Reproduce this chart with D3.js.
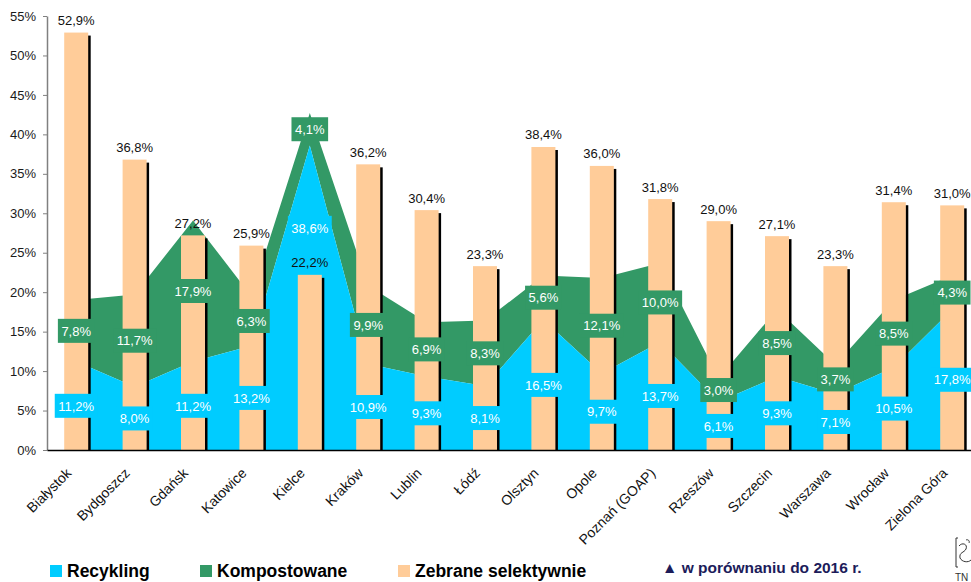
<!DOCTYPE html>
<html>
<head>
<meta charset="utf-8">
<script src="https://cdn.jsdelivr.net/npm/d3@7"></script>
<style>
  html, body { margin: 0; padding: 0; background: #fff; }
  svg { display: block; font-family: "Liberation Sans", Arial, sans-serif; }
</style>
</head>
<body>
<div id="chart"></div>
<script>
// ---- data ----
const categories = ["Białystok", "Bydgoszcz", "Gdańsk", "Katowice", "Kielce", "Kraków", "Lublin", "Łódź",
  "Olsztyn", "Opole", "Poznań (GOAP)", "Rzeszów", "Szczecin", "Warszawa", "Wrocław", "Zielona Góra"];
const recycling = [11.2, 8.0, 11.2, 13.2, 38.6, 10.9, 9.3, 8.1, 16.5, 9.7, 13.7, 6.1, 9.3, 7.1, 10.5, 17.8];
const composted = [7.8, 11.7, 17.9, 6.3, 4.1, 9.9, 6.9, 8.3, 5.6, 12.1, 10.0, 3.0, 8.5, 3.7, 8.5, 4.3];
const collected = [52.9, 36.8, 27.2, 25.9, 22.2, 36.2, 30.4, 23.3, 38.4, 36.0, 31.8, 29.0, 27.1, 23.3, 31.4, 31.0];
const yTicks = [0, 5, 10, 15, 20, 25, 30, 35, 40, 45, 50, 55];
const seriesNames = ["Recykling", "Kompostowane", "Zebrane selektywnie"];
const footnote = "▲ w porównaniu do 2016 r.";

// ---- styles ----
const C_BLUE = "#00CCFF", C_GREEN = "#339966", C_PEACH = "#FFCC99";
const W = 971, H = 582;
const fmt = v => v.toFixed(1).replace(".", ",") + "%";

const svg = d3.select("#chart").append("svg").attr("width", W).attr("height", H);

const y = d3.scaleLinear().domain([0, 55]).range([450, 16]);
const x = d3.scaleBand().domain(categories).range([47, 981.4]).padding(0);
const cx = c => x(c) + x.bandwidth() / 2;
const barW = 24;

const rows = categories.map((c, i) => ({ c, r: recycling[i], k: composted[i], z: collected[i] }));

// areas
const plot = svg.append("g");
plot.append("path").datum(rows)
  .attr("fill", C_GREEN)
  .attr("d", d3.area().x(d => cx(d.c)).y0(d => y(d.r)).y1(d => y(d.r + d.k)));
plot.append("path").datum(rows)
  .attr("fill", C_BLUE)
  .attr("d", d3.area().x(d => cx(d.c)).y0(y(0)).y1(d => y(d.r)));

// bars with shadow
const bars = plot.selectAll("g.bar").data(rows).join("g").attr("class", "bar");
bars.append("rect")
  .attr("x", d => cx(d.c) + barW / 2 - 0.5)
  .attr("y", d => y(d.z) + 3)
  .attr("width", 3)
  .attr("height", d => y(0) - y(d.z) - 3)
  .attr("fill", "#000");
bars.append("rect")
  .attr("x", d => cx(d.c) - barW / 2)
  .attr("y", d => y(d.z))
  .attr("width", barW)
  .attr("height", d => y(0) - y(d.z))
  .attr("fill", C_PEACH);

// y axis
const yAxis = svg.append("g").attr("transform", "translate(47,0)")
  .call(d3.axisLeft(y).tickValues(yTicks).tickSize(4).tickSizeOuter(0).tickPadding(7).tickFormat(d => d + "%"));
yAxis.select(".domain").attr("stroke", "#808080").attr("stroke-width", 1.5);
yAxis.selectAll(".tick line").attr("stroke", "#808080").attr("stroke-width", 1);
yAxis.selectAll(".tick text").attr("font-size", "13px").attr("fill", "#1a1a1a")
  .attr("font-family", "'Liberation Sans', Arial, sans-serif");

// x axis
const xAxis = svg.append("g").attr("transform", "translate(0,450)")
  .call(d3.axisBottom(x).tickSize(0).tickSizeOuter(0));
xAxis.select(".domain").attr("stroke", "#000").attr("stroke-width", 1.5);
xAxis.selectAll(".tick text")
  .attr("font-size", "14px").attr("fill", "#111")
  .attr("font-family", "'Liberation Sans', Arial, sans-serif")
  .attr("text-anchor", "end")
  .attr("x", 0).attr("y", 0).attr("dy", 0)
  .attr("transform", "translate(-4,24) rotate(-45)");

// bar labels
const barLabelCenter = d => y(d.z) - 12;
svg.append("g").selectAll("text").data(rows).join("text")
  .attr("x", d => cx(d.c))
  .attr("y", d => y(d.z) - 7.5)
  .attr("text-anchor", "middle")
  .attr("font-size", "13px")
  .attr("fill", "#111")
  .text(d => fmt(d.z));

// area labels with boxes
function boxLabel(g, xc, yc, text, fill) {
  const grp = g.append("g");
  const rect = grp.append("rect").attr("fill", fill);
  const t = grp.append("text")
    .attr("x", xc).attr("y", yc + 4.7)
    .attr("text-anchor", "middle")
    .attr("font-size", "13px")
    .attr("fill", "#fff")
    .text(text);
  const w = t.node().getComputedTextLength() + 7;
  rect.attr("x", xc - w / 2).attr("y", yc - 12).attr("width", w).attr("height", 24);
}
const lbl = svg.append("g");
rows.forEach(d => {
  // recycling label: middle of its band; if recycling tops the collected bar, lift it above that bar's label
  const yr = d.r > d.z ? barLabelCenter(d) - 35 : y(d.r / 2);
  boxLabel(lbl, cx(d.c), yr, fmt(d.r), C_BLUE);
  boxLabel(lbl, cx(d.c), y(d.r + d.k / 2), fmt(d.k), C_GREEN);
});

// legend
const legendColors = [C_BLUE, C_GREEN, C_PEACH];
const legendX = [50, 200, 398];
const leg = svg.append("g");
seriesNames.forEach((n, i) => {
  leg.append("rect").attr("x", legendX[i]).attr("y", 565).attr("width", 12).attr("height", 12).attr("fill", legendColors[i]);
  leg.append("text").attr("x", legendX[i] + 17).attr("y", 577)
    .attr("font-size", "17.5px").attr("font-weight", "bold").attr("fill", "#000").text(n);
});
svg.append("text").attr("x", 662).attr("y", 573)
  .attr("font-size", "15.5px").attr("font-weight", "bold").attr("fill", "#1c1c5a").text(footnote);

// cropped logo fragment at bottom right
const logo = svg.append("g").attr("stroke", "#333").attr("fill", "none").attr("stroke-width", 1);
logo.append("path").attr("d", "M958,538 L956,538 L956,567 L958,567");
logo.append("path").attr("d", "M959,546 C962,542 968,544 966,549 C964,553 959,552 960,558 C962,562 968,563 971,560");
logo.append("path").attr("d", "M966,540 C968,539 970,541 969,543");
svg.append("text").attr("x", 955).attr("y", 581).attr("font-size", "10px").attr("fill", "#333").text("TN");
</script>
</body>
</html>
